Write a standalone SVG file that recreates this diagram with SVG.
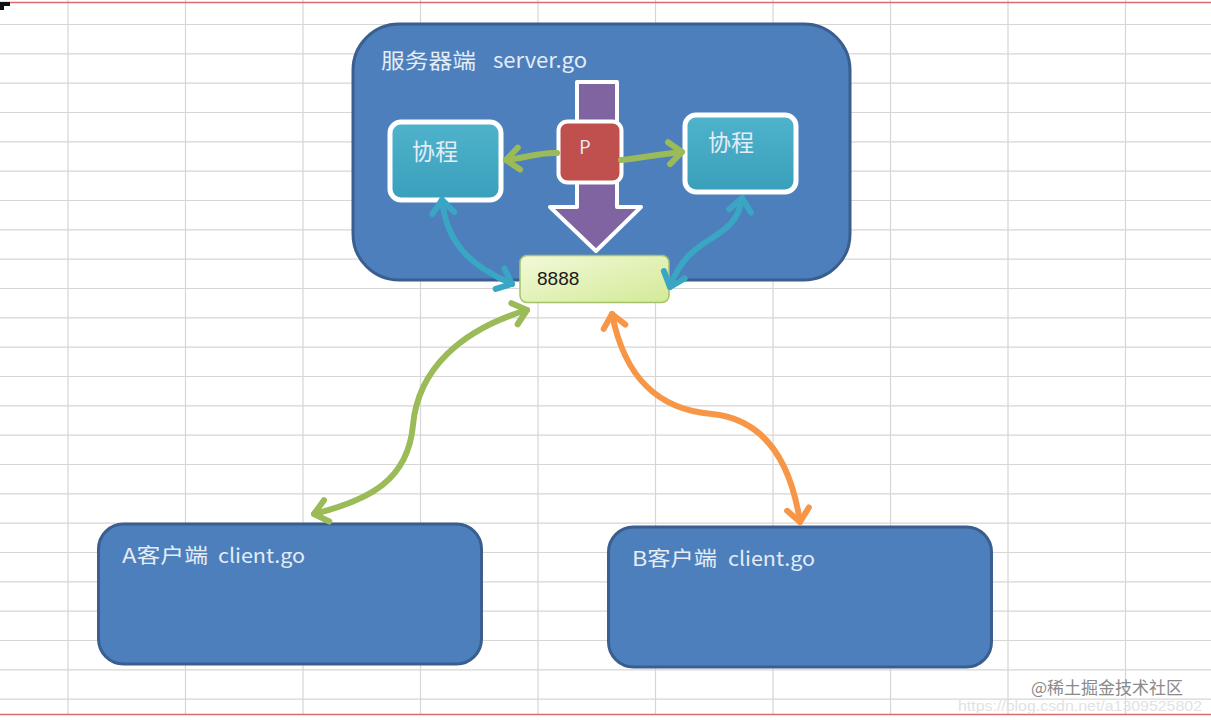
<svg xmlns="http://www.w3.org/2000/svg" width="1211" height="720" viewBox="0 0 1211 720">
<style>
.grid line{stroke:#d6d6d6;stroke-width:1.2}
.lbl{font-family:"Noto Sans CJK SC","Noto Sans",sans-serif;fill:#e4ecf6}
.big{fill:#4c7fbc;stroke:#3a5f8f;stroke-width:3}
.co{fill:url(#teal);stroke:#fff;stroke-width:5}
.conn path{fill:none;stroke-width:6;stroke-linecap:round}
</style>
<defs>
<linearGradient id="teal" x1="0" y1="0" x2="0" y2="1"><stop offset="0" stop-color="#4fb3cc"/><stop offset="1" stop-color="#3a9fbb"/></linearGradient>
<linearGradient id="lg" x1="0" y1="0" x2="1" y2="1"><stop offset="0" stop-color="#f2f9d8"/><stop offset="1" stop-color="#d3ea98"/></linearGradient>
<marker id="mg" markerUnits="userSpaceOnUse" markerWidth="40" markerHeight="40" refX="0" refY="0" viewBox="-20 -20 40 40" orient="auto-start-reverse" overflow="visible"><path d="M-13 -11 L0 0 L-13 11" fill="none" stroke="#9bbb59" stroke-width="6" stroke-linecap="round" stroke-linejoin="round"/></marker>
<marker id="mo" markerUnits="userSpaceOnUse" markerWidth="40" markerHeight="40" refX="0" refY="0" viewBox="-20 -20 40 40" orient="auto-start-reverse" overflow="visible"><path d="M-13 -11 L0 0 L-13 11" fill="none" stroke="#f79646" stroke-width="6" stroke-linecap="round" stroke-linejoin="round"/></marker>
<marker id="mb" markerUnits="userSpaceOnUse" markerWidth="40" markerHeight="40" refX="0" refY="0" viewBox="-20 -20 40 40" orient="auto-start-reverse" overflow="visible"><path d="M-13 -11 L0 0 L-13 11" fill="none" stroke="#3aa6c4" stroke-width="6" stroke-linecap="round" stroke-linejoin="round"/></marker>
</defs>
<rect width="1211" height="720" fill="#fff"/>
<g class="grid">
<line x1="68" y1="0" x2="68" y2="714"/><line x1="185.5" y1="0" x2="185.5" y2="714"/><line x1="303" y1="0" x2="303" y2="714"/><line x1="420.5" y1="0" x2="420.5" y2="714"/><line x1="538" y1="0" x2="538" y2="714"/><line x1="655.5" y1="0" x2="655.5" y2="714"/><line x1="773" y1="0" x2="773" y2="714"/><line x1="890.5" y1="0" x2="890.5" y2="714"/><line x1="1008" y1="0" x2="1008" y2="714"/><line x1="1125.5" y1="0" x2="1125.5" y2="714"/>
<line x1="0" y1="24.5" x2="1211" y2="24.5"/><line x1="0" y1="53.8" x2="1211" y2="53.8"/><line x1="0" y1="83.2" x2="1211" y2="83.2"/><line x1="0" y1="112.5" x2="1211" y2="112.5"/><line x1="0" y1="141.8" x2="1211" y2="141.8"/><line x1="0" y1="171.2" x2="1211" y2="171.2"/><line x1="0" y1="200.5" x2="1211" y2="200.5"/><line x1="0" y1="229.8" x2="1211" y2="229.8"/><line x1="0" y1="259.1" x2="1211" y2="259.1"/><line x1="0" y1="288.5" x2="1211" y2="288.5"/><line x1="0" y1="317.8" x2="1211" y2="317.8"/><line x1="0" y1="347.1" x2="1211" y2="347.1"/><line x1="0" y1="376.5" x2="1211" y2="376.5"/><line x1="0" y1="405.8" x2="1211" y2="405.8"/><line x1="0" y1="435.1" x2="1211" y2="435.1"/><line x1="0" y1="464.5" x2="1211" y2="464.5"/><line x1="0" y1="493.8" x2="1211" y2="493.8"/><line x1="0" y1="523.1" x2="1211" y2="523.1"/><line x1="0" y1="552.5" x2="1211" y2="552.5"/><line x1="0" y1="581.8" x2="1211" y2="581.8"/><line x1="0" y1="611.1" x2="1211" y2="611.1"/><line x1="0" y1="640.5" x2="1211" y2="640.5"/><line x1="0" y1="669.8" x2="1211" y2="669.8"/><line x1="0" y1="699.1" x2="1211" y2="699.1"/>
</g>
<line x1="0" y1="2.5" x2="1211" y2="2.5" stroke="#dd6b6b" stroke-width="1.5"/>
<line x1="0" y1="714.5" x2="1211" y2="714.5" stroke="#dd6b6b" stroke-width="1.5"/>
<path d="M0 2 H10 V6 H4 V10 H0 Z" fill="#111"/>

<g id="server">
<rect class="big" x="353" y="24" width="497" height="256" rx="46"/>
<text class="lbl" x="381" y="68" font-size="21"><tspan textLength="95" lengthAdjust="spacingAndGlyphs">服务器端</tspan><tspan x="493" textLength="94" lengthAdjust="spacingAndGlyphs">server.go</tspan></text>
</g>

<g id="purple-arrow">
<path d="M577 82 H617 V207 H641 L596 251 L550 207 H577 Z" fill="#8064a2" stroke="#fff" stroke-width="4" stroke-linejoin="round"/>
</g>

<g id="coroutine-left">
<rect class="co" x="390" y="122" width="111" height="78" rx="11"/>
<text class="lbl" x="412" y="160" font-size="23">协程</text>
</g>
<g id="coroutine-right">
<rect class="co" x="685" y="115" width="111" height="77" rx="11"/>
<text class="lbl" x="708" y="151" font-size="23">协程</text>
</g>

<g id="p">
<rect x="558.5" y="121.5" width="63" height="61" rx="9" fill="#c0504d" stroke="#fff" stroke-width="4"/>
<text class="lbl" x="585" y="154" font-size="18" text-anchor="middle">P</text>
</g>

<g id="port">
<rect x="520" y="255.5" width="149" height="47" rx="7" fill="url(#lg)" stroke="#a5c26a" stroke-width="1.5"/>
<text x="537" y="285" font-family="'Liberation Sans',sans-serif" font-size="19" fill="#1a1a1a">8888</text>
</g>

<g id="client-a">
<rect class="big" x="98.5" y="524" width="383" height="140" rx="25"/>
<text class="lbl" x="122" y="563" font-size="20"><tspan textLength="86" lengthAdjust="spacingAndGlyphs">A客户端</tspan><tspan x="218" textLength="87" lengthAdjust="spacingAndGlyphs">client.go</tspan></text>
</g>
<g id="client-b">
<rect class="big" x="608.5" y="527" width="383" height="140" rx="25"/>
<text class="lbl" x="632" y="566" font-size="20"><tspan textLength="85" lengthAdjust="spacingAndGlyphs">B客户端</tspan><tspan x="728" textLength="87" lengthAdjust="spacingAndGlyphs">client.go</tspan></text>
</g>

<g class="conn">
<path d="M557 153 C540 152 525 158 506 160" stroke="#9bbb59" marker-end="url(#mg)"/>
<path d="M621 160 C640 158 660 154 682 152" stroke="#9bbb59" marker-end="url(#mg)"/>
<path d="M442 200 C447 250 480 270 512 284" stroke="#3aa6c4" marker-start="url(#mb)" marker-end="url(#mb)"/>
<path d="M742 198 C735 245 690 230 670 287" stroke="#3aa6c4" marker-start="url(#mb)" marker-end="url(#mb)"/>
<path d="M527 310 C460 330 418 370 413 425 C408 480 370 500 314 514" stroke="#9bbb59" marker-start="url(#mg)" marker-end="url(#mg)"/>
<path d="M612 314 C625 380 660 410 712 414 C770 420 792 470 800 522" stroke="#f79646" marker-start="url(#mo)" marker-end="url(#mo)"/>
</g>

<text x="1031" y="694" font-family="'Noto Sans CJK SC',sans-serif" font-size="17" fill="#8a8a8a">@稀土掘金技术社区</text>
<text x="958" y="711" font-family="'Liberation Sans',sans-serif" font-size="14" fill="#e2e2e2" textLength="244" lengthAdjust="spacingAndGlyphs">https://blog.csdn.net/a1309525802</text>
</svg>
